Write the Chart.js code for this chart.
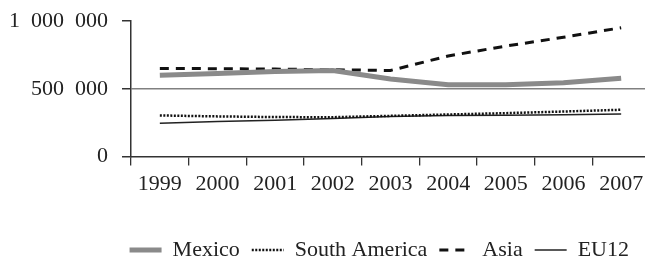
<!DOCTYPE html>
<html>
<head>
<meta charset="utf-8">
<script src="https://cdn.jsdelivr.net/npm/chart.js@4/dist/chart.umd.min.js"></script>
<style>
  html, body { margin: 0; padding: 0; overflow: hidden; background: #fff; }
  #wrap { width: 650px; height: 257px; position: relative; }
</style>
</head>
<body>
<div id="wrap"><canvas id="grafico"></canvas></div>
<script>
// Datos del gráfico
const years = ['1999', '2000', '2001', '2002', '2003', '2004', '2005', '2006', '2007'];
const mexico = [600000, 613000, 627000, 635000, 572000, 530000, 530000, 545000, 578000];
const southAmerica = [303000, 296000, 291000, 290000, 300000, 310000, 320000, 332000, 345000];
const asia = [650000, 648000, 645000, 640000, 635000, 742000, 815000, 880000, 950000];
const eu12 = [245000, 258000, 268000, 280000, 295000, 302000, 305000, 308000, 313000];
const yTicks = [0, 500000, 1000000];

const FONT = '"Liberation Serif", "Times New Roman", serif';

// Formato con espacios de cifra: 1 000 000
function formatoMiles(v){
    return String(v).replace(/\B(?=(\d{3})+(?!\d))/g, '\u2007');
}

// Desplaza la leyenda un poco a la izquierda
const moverLeyenda = {
    id: 'moverLeyenda',
    afterLayout(chart){
        if (chart.legend) {
            chart.legend.left -= 9;
            chart.legend.right -= 9;
        }
    }
};

const ctx = document.getElementById('grafico').getContext('2d');

new Chart(ctx, {
    type: 'line',
    data: {
        labels: years,
        datasets: [
            { label: 'Mexico', data: mexico, borderColor: '#8a8a8a', backgroundColor: '#8a8a8a', borderWidth: 5 },
            { label: 'South America', data: southAmerica, borderColor: '#111', backgroundColor: '#111', borderWidth: 2.5, borderDash: [2, 1.5] },
            { label: 'Asia', data: asia, borderColor: '#111', backgroundColor: '#111', borderWidth: 3, borderDash: [9, 7] },
            { label: 'EU12', data: eu12, borderColor: '#222', backgroundColor: '#222', borderWidth: 1.5 }
        ]
    },
    plugins: [moverLeyenda],
    options: {
        responsive: true,
        maintainAspectRatio: false,
        animation: false,
        elements: {
            point: { radius: 0 },
            line: { tension: 0, borderCapStyle: 'butt' }
        },
        layout: { padding: { top: 21, right: 0, bottom: -14, left: 0 } },
        plugins: {
            tooltip: { enabled: false },
            legend: {
                position: 'bottom',
                align: 'end',
                labels: {
                    usePointStyle: true,
                    pointStyle: 'line',
                    pointStyleWidth: 32,
                    padding: 12,
                    color: '#222',
                    font: { family: FONT, size: 22 },
                    generateLabels: chart => chart.data.datasets.map((ds, i) => ({
                        text: ds.label,
                        fillStyle: ds.borderColor,
                        strokeStyle: ds.borderColor,
                        lineWidth: ds.borderWidth,
                        lineDash: ds.borderDash || [],
                        lineCap: 'butt',
                        pointStyle: 'line',
                        hidden: false,
                        datasetIndex: i,
                        fontColor: '#222'
                    }))
                }
            }
        },
        scales: {
            x: {
                offset: true,
                afterFit: function(scale){
                    scale.height = 70.5;
                },
                grid: {
                    offset: true,
                    drawOnChartArea: false,
                    tickLength: 9,
                    tickColor: '#333',
                    lineWidth: 1.3
                },
                border: { color: '#333', width: 1.5 },
                ticks: {
                    color: '#222',
                    padding: 6,
                    maxRotation: 0,
                    autoSkip: false,
                    font: { family: FONT, size: 22 }
                }
            },
            y: {
                min: 0,
                max: 1000000,
                afterBuildTicks: function(scale){
                    scale.ticks = yTicks.map(v => ({ value: v }));
                },
                afterFit: function(scale){
                    scale.width = 131;
                    scale.paddingTop = 0;
                    scale.paddingBottom = 0;
                },
                grid: {
                    color: c => (c.tick && c.tick.value === 500000) ? '#808080' : 'rgba(0,0,0,0)',
                    lineWidth: 1.5,
                    tickLength: 9,
                    tickColor: '#333'
                },
                border: { color: '#333', width: 1.5 },
                ticks: {
                    color: '#222',
                    padding: 14,
                    callback: v => formatoMiles(v),
                    font: { family: FONT, size: 22 }
                }
            }
        }
    }
});
</script>
</body>
</html>
